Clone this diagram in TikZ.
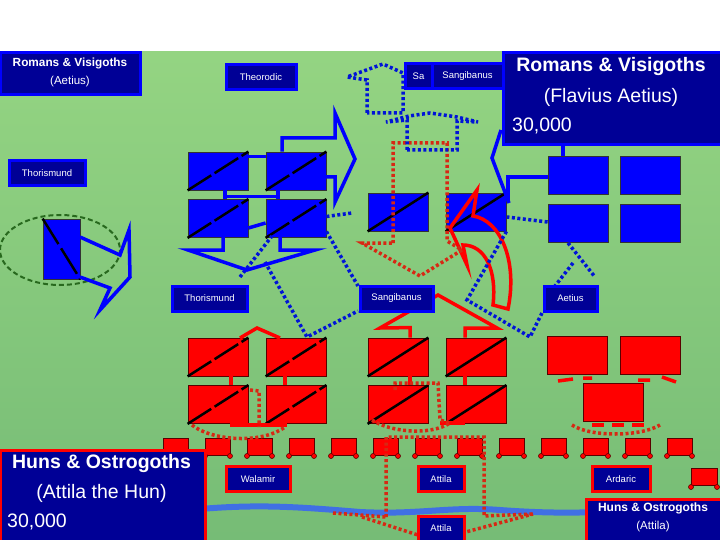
\documentclass[tikz,border=0pt]{standalone}
\usepackage{fontspec}
\setmainfont{Liberation Sans}
\usetikzlibrary{calc}
\definecolor{fieldtop}{RGB}{148,212,130}
\definecolor{fieldbot}{RGB}{118,188,118}
\definecolor{romanblue}{RGB}{0,0,255}
\definecolor{hunred}{RGB}{255,0,0}
\definecolor{navy}{RGB}{0,0,150}
\definecolor{riverblue}{RGB}{64,112,228}
\definecolor{reddot}{RGB}{215,40,20}
\definecolor{bluedot}{RGB}{0,20,215}
\definecolor{camp}{RGB}{40,105,30}

\begin{document}
\begin{tikzpicture}[x=1pt,y=-1pt,
  troop/.style={draw=black!80,line width=0.8pt,minimum width=60pt,minimum height=38pt,inner sep=0pt},
  rom/.style={troop,fill=romanblue},
  hun/.style={troop,fill=hunred,draw=red!35!black},
  slashline/.style={black,line width=2.5pt},
  tagbox/.style={draw=romanblue,line width=3pt,fill=navy,text=white,inner sep=0pt,minimum height=25pt,font=\fontsize{9.5}{11}\selectfont},
  redtagbox/.style={tagbox,draw=hunred},
  boxtext/.style={text=white,inner sep=0pt},
  bline/.style={romanblue,line width=3.5pt},
  rline/.style={hunred,line width=3.5pt},
  bdots/.style={bluedot,line width=3.5pt,dash pattern=on 3pt off 2.5pt},
  rdots/.style={reddot,line width=3.5pt,dash pattern=on 3pt off 2.5pt},
  wagon/.style={fill=hunred,draw=red!35!black,line width=0.6pt}
]
\useasboundingbox (0,0) rectangle (720,540);
\clip (0,0) rectangle (720,540);
\fill[white] (0,0) rectangle (720,540);
\shade[top color=fieldtop,bottom color=fieldbot] (0,52) rectangle (720,540);

\draw[riverblue,line width=6pt] (200,509) .. controls (260,504) and (300,507) .. (360,512) .. controls (420,515) and (450,506) .. (500,510) .. controls (540,513) and (570,513) .. (600,512);
\draw[camp,line width=2pt,dash pattern=on 5pt off 3pt] (60,250) ellipse[x radius=60,y radius=35];

\node[rom] (A1) at (218,171) {};
\node[rom] (A2) at (296,171) {};
\node[rom] (A3) at (218,218.5) {};
\node[rom] (A4) at (296,218.5) {};
\node[rom] (B1) at (398,212) {};
\node[rom] (B2) at (476,212) {};
\node[rom] (C1) at (578,175.5) {};
\node[rom] (C2) at (650,175.5) {};
\node[rom] (C3) at (578,223.5) {};
\node[rom] (C4) at (650,223.5) {};
\node[rom,minimum width=37pt,minimum height=60pt] (T1) at (61.5,249) {};

\node[hun] (D1) at (218,357) {};
\node[hun] (D2) at (296,357) {};
\node[hun] (D3) at (218,404.5) {};
\node[hun] (D4) at (296,404.5) {};
\node[hun] (E1) at (398,357) {};
\node[hun] (E2) at (476,357) {};
\node[hun] (E3) at (398,404.5) {};
\node[hun] (E4) at (476,404.5) {};
\node[hun] (F1) at (577,355.5) {};
\node[hun] (F2) at (650,355.5) {};
\node[hun] (F3) at (613,402.5) {};

\foreach \u in {A1,A2,A3,A4,D1,D2,D3,D4}
  \draw[slashline,dash pattern=on 28pt off 4pt] (\u.south west) -- (\u.north east);
\foreach \u in {B1,B2,E1,E2,E3,E4}
  \draw[slashline] (\u.south west) -- (\u.north east);
\draw[slashline,dash pattern=on 30pt off 5pt] (T1.north west) -- (T1.south east);

\foreach \k [evaluate=\k as \wx using 163+42*\k] in {0,...,12}{
  \draw[wagon] (\wx,438) rectangle ++(25,17);
  \filldraw[wagon] (\wx,456) circle[radius=2.5pt] (\wx+25,456) circle[radius=2.5pt];
}
\draw[wagon] (691,468) rectangle ++(26,17);
\filldraw[wagon] (691,487) circle[radius=2.5pt] (717,487) circle[radius=2.5pt];

\draw[rline] ([xshift=12pt]E1.north) -- ++(0,-10) -- (380,328) -- (438,295) -- (497,328) -- (465,328) -- ([xshift=-11pt]E2.north);
\draw[rline] ([xshift=12pt]E1.south) -- ([xshift=12pt]E3.north);
\draw[rline] ([xshift=-11pt]E2.south) -- ([xshift=-11pt]E4.north);
\draw[rline] (440,423) -- (465,423);
\draw[rline] (240,338) -- (257,328) -- (280,338);
\draw[rline] ([xshift=13pt]D1.south) -- ([xshift=13pt]D3.north);
\draw[rline] ([xshift=-11pt]D2.south) -- ([xshift=-11pt]D4.north);
\draw[rline] (230,425) -- (287,425);
\draw[rline] (493,305) .. controls (497,270) and (485,245) .. (463,245) -- (467,265) -- (450,228) -- (477,190) -- (473,216) .. controls (500,220) and (518,260) .. (508,309) -- cycle;

\draw[rdots] (393,243) -- (393,143) -- (447,143) -- (447,241) -- (462,250) -- (420,276) -- (362,243) -- cycle;
\draw[rdots] (250,390) -- (259,391) -- (259,427);
\draw[rdots] (192,425) .. controls (210,440) and (260,445) .. (285,427);
\draw[rdots] (395,390) -- (395,383) -- (438,383) -- (440,420) -- (450,423);
\draw[rdots] (372,420) .. controls (390,432) and (430,436) .. (450,423);
\draw[rdots] (386,517) -- (386,437) -- (484,437) -- (484,516) -- (533,514);
\draw[rdots] (333,513) -- (386,517);
\draw[rdots] (362,517) -- (418,535);
\draw[rdots] (462,533) -- (533,514);
\draw[rdots] (572,425) .. controls (590,437) and (640,437) .. (660,425);
\draw[rline,dash pattern=on 12pt off 8pt] (592,425) -- (645,425);
\draw[rline] (558,381) -- (573,379) (583,378) -- (592,378) (638,380) -- (650,380) (662,377) -- (676,382);

\draw[bdots] (367,113) -- (367,80) -- (347,77) -- (383,64) -- (403,73) -- (403,113) -- cycle;
\draw[bdots] (407,150) -- (407,120) -- (386,122) -- (409,116) -- (430,113) -- (457,117) -- (478,122) -- (457,121) -- (457,150) -- cycle;
\draw[bdots] (240,277) -- (272,236);
\draw[bdots] (A4.east) ++(0,-2) -- (352,213);
\draw[bdots] ([yshift=-13pt]A4.east) -- (358,286);
\draw[bdots] (265,262) -- (307,337) -- (358,311);
\draw[bdots] (B2.south east) -- (467,300) -- (530,337) -- (543,311);
\draw[bdots] ([xshift=-10pt]C3.south) -- (595,277);
\draw[bdots] (573,263) -- (555,286);
\draw[bdots] ([yshift=1.5pt]C3.west) -- (507,217);

\draw[bline] ([yshift=-5pt]A1.north east) -- ([yshift=-5pt]A2.north west);
\draw[bline] ([xshift=7pt]A1.south) -- ([xshift=7pt]A3.north);
\draw[bline] ([xshift=-18pt]A2.south) -- ([xshift=-18pt]A4.north);
\draw[bline] ([xshift=7pt,yshift=-6pt]A1.south) -- ([xshift=-18pt,yshift=-6pt]A2.south);
\draw[bline] ([yshift=-9.5pt]A3.east) -- ([yshift=-4.5pt]A4.west);
\draw[bline] ([xshift=-14pt]A2.north) -- (282,138) -- (335,138) -- (335,113) -- (355,159) -- (335,202) -- (335,177) -- (326,177);
\draw[bline] (223,237) -- (223,250) -- (188,250) -- (247,270) -- (315,250) -- (280,250) -- (280,237);
\draw[bline] (80,237) -- (120,255) -- (129,230) -- (130,277) -- (100,310) -- (110,288) -- (80,277);
\draw[bline] (501,130) -- (492,158) -- (509,203);
\draw[bline] ([yshift=-1.5pt]C1.west) -- (508,177) -- (508,200);

\node[tagbox,minimum width=140pt,minimum height=42pt] (rvsmall) at (70,74) {};
\node[boxtext,font=\bfseries\fontsize{11.8}{13}\selectfont] at (70,63) {Romans \& Visigoths};
\node[boxtext,font=\fontsize{11.5}{13}\selectfont] at (70,82) {(Aetius)};

\node[tagbox,minimum width=222pt,minimum height=92pt] (rvbig) at (614,99) {};
\node[boxtext,font=\bfseries\fontsize{19.5}{22}\selectfont] at (611,67) {Romans \& Visigoths};
\node[boxtext,font=\fontsize{19.5}{22}\selectfont] at (611,97) {(Flavius Aetius)};
\node[boxtext,font=\fontsize{19.5}{22}\selectfont,anchor=west] at (512,126) {30,000};
\draw[bline] ([xshift=-15pt]C1.north) -- ([xshift=-15pt]C1.north |- rvbig.south);

\node[redtagbox,minimum width=205pt,minimum height=92pt] (hobig) at (102.5,496) {};
\node[boxtext,font=\bfseries\fontsize{19.5}{22}\selectfont] at (101.5,463) {Huns \& Ostrogoths};
\node[boxtext,font=\fontsize{19.5}{22}\selectfont] at (101.5,493) {(Attila the Hun)};
\node[boxtext,font=\fontsize{19.5}{22}\selectfont,anchor=west] at (7,522) {30,000};

\node[redtagbox,minimum width=136pt,minimum height=44pt] (hosmall) at (654,521) {};
\node[boxtext,font=\bfseries\fontsize{12}{14}\selectfont] at (653,508) {Huns \& Ostrogoths};
\node[boxtext,font=\fontsize{11.5}{13}\selectfont] at (653,527) {(Attila)};

\node[tagbox,minimum width=70pt] (theo) at (261,77) {Theorodic};
\node[tagbox,minimum width=27pt] (sa) at (418.5,76.5) {Sa};
\node[tagbox,minimum width=71pt] (sangA) at (467.5,76.5) {Sangibanus};
\node[tagbox,minimum width=76pt] (thorA) at (47,173) {Thorismund};
\node[tagbox,minimum width=75pt] (thorB) at (209.5,298.5) {Thorismund};
\node[tagbox,minimum width=73pt] (sangB) at (396.5,298.5) {Sangibanus};
\node[tagbox,minimum width=53pt] (aetius) at (570.5,298.5) {Aetius};
\node[redtagbox,minimum width=64pt] (walamir) at (258,479) {Walamir};
\node[redtagbox,minimum width=46pt] (attilaA) at (441,479) {Attila};
\node[redtagbox,minimum width=58pt] (ardaric) at (621,479) {Ardaric};
\node[redtagbox,minimum width=46pt] (attilaB) at (441,528.5) {Attila};
\end{tikzpicture}
\end{document}
